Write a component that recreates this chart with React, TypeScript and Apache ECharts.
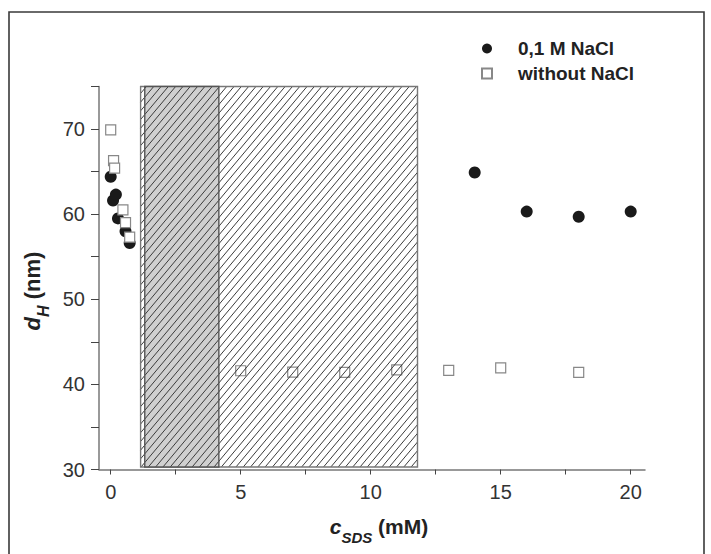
import React, { useEffect, useRef } from "react";
import * as echarts from "echarts";

// 0,1 M NaCl (filled circles)
const naclX = [0, 0.09, 0.2, 0.28, 0.57, 0.73, 14, 16, 18, 20];
const naclY = [64.4, 61.6, 62.3, 59.5, 58.0, 56.6, 64.9, 60.3, 59.7, 60.3];
// without NaCl (open squares)
const noSaltX = [0, 0.11, 0.15, 0.47, 0.57, 0.73, 5, 7, 9, 11, 13, 15, 18];
const noSaltY = [69.9, 66.3, 65.4, 60.5, 59.0, 57.3, 41.6, 41.45, 41.4, 41.7, 41.65, 41.95, 41.4];

// shaded concentration regions
const regionStart = [1.15, 1.31];
const regionEnd = [11.8, 4.16];
const regionLow = 30.3;
const regionHigh = 75;

const xLabelValues = [0, 5, 10, 15, 20];
const xTickValues = [0, 2.5, 5, 7.5, 10, 12.5, 15, 17.5, 20];
const yLabelValues = [30, 40, 50, 60, 70];
const yTickValues = [30, 35, 40, 45, 50, 55, 60, 65, 70, 75];

const seriesNames = ["0,1 M NaCl", "without NaCl"];

const FONT = "'Liberation Sans', Arial, Helvetica, sans-serif";

export default function App() {
  const ref = useRef<HTMLDivElement>(null);

  useEffect(() => {
    if (!ref.current) return;
    const chart = echarts.init(ref.current, undefined, { renderer: "svg" });

    const naclData = naclX.map((x, i) => [x, naclY[i]]);
    const noSaltData = noSaltX.map((x, i) => [x, noSaltY[i]]);
    const regionData = regionStart.map((s, i) => [s, regionEnd[i], i]);

    const k = 1 / Math.tan((50 * Math.PI) / 180);
    const step = 7.3;

    const option: any = {
      animation: false,
      textStyle: { fontFamily: FONT },
      graphic: [
        {
          type: "rect",
          shape: { x: 9, y: 12, width: 695, height: 620 },
          style: { fill: "none", stroke: "#3a3a3a", lineWidth: 1.6 },
          silent: true,
          z: 0,
        },
      ],
      legend: {
        orient: "vertical",
        left: 481,
        top: 39,
        padding: 0,
        itemWidth: 52,
        itemHeight: 10,
        itemGap: 6,
        symbolKeepAspect: true,
        textStyle: { fontSize: 19, fontWeight: "bold", color: "#222", fontFamily: FONT },
        data: [
          { name: seriesNames[0], icon: "circle" },
          { name: seriesNames[1], icon: "path://M0,0L10,0L10,10L0,10Z" },
        ],
      },
      grid: { left: 99, right: 66, top: 86.5, bottom: 84.5, containLabel: false },
      xAxis: {
        type: "value",
        min: -0.45,
        max: 20.55,
        splitLine: { show: false },
        axisLine: { onZero: false, lineStyle: { color: "#777", width: 1.5 } },
        axisTick: {
          customValues: xTickValues,
          length: 5,
          lineStyle: { color: "#444", width: 1 },
        },
        axisLabel: {
          customValues: xLabelValues,
          fontSize: 20,
          color: "#333",
          margin: 12,
          fontFamily: FONT,
        },
        name: "{i|c}{s|SDS}{n| (mM)}",
        nameLocation: "middle",
        nameGap: 39,
        nameTextStyle: {
          padding: [0, 0, 0, 14],
          rich: {
            i: { fontSize: 21, fontWeight: "bold", fontStyle: "italic", color: "#222", lineHeight: 36, verticalAlign: "middle", fontFamily: FONT },
            s: { fontSize: 15, fontWeight: "bold", fontStyle: "italic", color: "#222", lineHeight: 8, verticalAlign: "bottom", fontFamily: FONT },
            n: { fontSize: 21, fontWeight: "bold", color: "#222", lineHeight: 36, verticalAlign: "middle", fontFamily: FONT },
          },
        },
      },
      yAxis: {
        type: "value",
        min: 30,
        max: 75,
        interval: 5,
        splitLine: { show: false },
        axisLine: { onZero: false, lineStyle: { color: "#777", width: 1.5 } },
        axisTick: {
          customValues: yTickValues,
          length: 8,
          lineStyle: { color: "#444", width: 1 },
        },
        axisLabel: {
          customValues: yLabelValues,
          fontSize: 20,
          color: "#333",
          margin: 14,
          fontFamily: FONT,
        },
        name: "{i|d}{s|H}{n| (nm)}",
        nameLocation: "middle",
        nameGap: 41,
        nameRotate: 90,
        nameTextStyle: {
          padding: [0, 26, 0, 0],
          rich: {
            i: { fontSize: 22, fontWeight: "bold", fontStyle: "italic", color: "#222", lineHeight: 38, verticalAlign: "middle", fontFamily: FONT },
            s: { fontSize: 16, fontWeight: "bold", fontStyle: "italic", color: "#222", lineHeight: 12, verticalAlign: "bottom", fontFamily: FONT },
            n: { fontSize: 22, fontWeight: "bold", color: "#222", lineHeight: 38, verticalAlign: "middle", fontFamily: FONT },
          },
        },
      },
      series: [
        {
          name: seriesNames[0],
          type: "scatter",
          symbol: "circle",
          symbolSize: 12,
          itemStyle: { color: "#1a1a1a", opacity: 1 },
          data: naclData,
          z: 2,
        },
        {
          name: seriesNames[1],
          type: "scatter",
          symbol: "rect",
          symbolSize: 10,
          itemStyle: { color: "#ffffff", borderColor: "#888", borderWidth: 1.2, opacity: 1 },
          data: noSaltData,
          z: 3,
        },
        {
          type: "custom",
          silent: true,
          z: 4,
          encode: { x: [0, 1] },
          data: regionData,
          renderItem: (params: any, api: any) => {
            const x0 = api.value(0);
            const x1 = api.value(1);
            const idx = api.value(2);
            const tl = api.coord([x0, regionHigh]);
            const br = api.coord([x1, regionLow]);
            const L = tl[0], T = tl[1], R = br[0], B = br[1];
            const children: any[] = [];
            children.push({
              type: "rect",
              shape: { x: L, y: T, width: R - L, height: B - T },
              style: { fill: idx === 1 ? "#d0d0d0" : "none", stroke: "none" },
            });
            const cMin = L + k * T;
            const cMax = R + k * B;
            for (let c = Math.ceil(cMin / step) * step; c <= cMax; c += step) {
              const yA = Math.max(T, (c - R) / k);
              const yB = Math.min(B, (c - L) / k);
              if (yB - yA > 0.5) {
                children.push({
                  type: "line",
                  shape: { x1: c - k * yA, y1: yA, x2: c - k * yB, y2: yB },
                  style: { stroke: "#3c3c3c", lineWidth: 1 },
                });
              }
            }
            children.push({
              type: "rect",
              shape: { x: L, y: T, width: R - L, height: B - T },
              style: { fill: "none", stroke: idx === 1 ? "#555" : "#777", lineWidth: 1.4 },
            });
            return { type: "group", children };
          },
        },
      ],
    };

    chart.setOption(option);
    return () => chart.dispose();
  }, []);

  return (
    <div
      ref={ref}
      style={{ position: "absolute", left: 0, top: 0, width: 711, height: 554, background: "#fff" }}
    />
  );
}
